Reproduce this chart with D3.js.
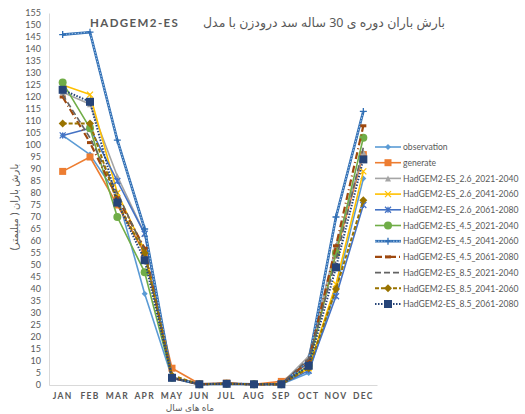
<!DOCTYPE html>
<html>
<head>
<meta charset="utf-8">
<script src="https://cdn.jsdelivr.net/npm/d3@7"></script>
<style>
  html, body { margin: 0; padding: 0; background: #fff; }
  svg { display: block; font-family: "Lato", "Liberation Sans", sans-serif; }
</style>
</head>
<body>
<svg id="chart" width="525" height="414"></svg>
<script>
// Monthly rainfall (mm), 30-year averages, Doroodzan dam, HadGEM2-ES scenarios
const months = ["JAN","FEB","MAR","APR","MAY","JUN","JUL","AUG","SEP","OCT","NOV","DEC"];
const yTicks = d3.range(0, 156, 5);

const observation   = [104, 96, 79, 38, 3, 0.3, 0.5, 0.3, 0.3, 5, 40, 86];
const generate      = [89, 95, 75, 55, 7, 0.5, 0.8, 0.3, 1.5, 9, 55, 96];
const s26_2021      = [122, 117, 87, 63, 3, 0.3, 0.6, 0.3, 0.5, 12, 58, 97];
const s26_2041      = [125, 121, 80, 56, 3, 0.3, 0.5, 0.3, 0.3, 7, 42, 89];
const s26_2061      = [104, 107, 85, 63, 3, 0.3, 0.5, 0.3, 0.3, 6, 37, 75];
const s45_2021      = [126, 107, 70, 47, 3, 0.3, 0.5, 0.3, 0.3, 8, 55, 103];
const s45_2041      = [146, 147, 102, 65, 3, 0.3, 0.5, 0.3, 0.3, 10, 70, 114];
const s45_2061      = [120, 101, 78, 57, 3, 0.3, 0.6, 0.3, 0.3, 10, 58, 108];
const s85_2021      = [121, 103, 80, 56, 3, 0.3, 0.5, 0.3, 0.3, 11, 52, 99];
const s85_2041      = [109, 109, 76, 55, 4, 0.3, 0.5, 0.3, 0.3, 7, 40, 77];
const s85_2061      = [123, 118, 76, 52, 3, 0.3, 0.5, 0.3, 0.3, 8, 49, 94];

const seriesNames = [
  "observation", "generate",
  "HadGEM2-ES_2.6_2021-2040", "HadGEM2-ES_2.6_2041-2060", "HadGEM2-ES_2.6_2061-2080",
  "HadGEM2-ES_4.5_2021-2040", "HadGEM2-ES_4.5_2041-2060", "HadGEM2-ES_4.5_2061-2080",
  "HadGEM2-ES_8.5_2021-2040", "HadGEM2-ES_8.5_2041-2060", "HadGEM2-ES_8.5_2061-2080"
];
const seriesValues = [observation, generate, s26_2021, s26_2041, s26_2061,
  s45_2021, s45_2041, s45_2061, s85_2021, s85_2041, s85_2061];

// line appearance per series
const styles = [
  { color: "#5B9BD5", width: 1.6, dash: null, marker: "diamond", size: 5 },
  { color: "#ED7D31", width: 1.6, dash: null, marker: "square", size: 7 },
  { color: "#A5A5A5", width: 1.6, dash: null, marker: "triangle", size: 6 },
  { color: "#FFC000", width: 1.6, dash: null, marker: "x", size: 6 },
  { color: "#4472C4", width: 1.6, dash: null, marker: "star", size: 6 },
  { color: "#70AD47", width: 1.6, dash: null, marker: "circle", size: 8 },
  { color: "#2E6DB4", width: 2.6, dash: null, marker: "plus", size: 7, double: true },
  { color: "#9E480E", width: 2.2, dash: "7,3,1,3", marker: "dash", size: 6 },
  { color: "#636363", width: 1.6, dash: "6,3", marker: "none", size: 0 },
  { color: "#997300", width: 2, dash: "4,2", marker: "diamond", size: 7 },
  { color: "#264478", width: 2, dash: "1.5,1.5", marker: "square", size: 8 }
];

const svg = d3.select("#chart");
const plot = { left: 49, right: 377, top: 13, bottom: 385 };

const x = d3.scaleBand().domain(months).range([plot.left, plot.right]);
const y = d3.scaleLinear().domain([0, 155]).range([plot.bottom, plot.top]);
const cx = m => x(m) + x.bandwidth() / 2;

// axes
const yAxis = d3.axisLeft(y).tickValues(yTicks).tickSize(0).tickPadding(8);
const yg = svg.append("g").attr("transform", `translate(${plot.left},0)`).call(yAxis);
yg.select(".domain").attr("stroke", "#D9D9D9");
yg.selectAll("text").attr("fill", "#595959").attr("font-size", 9)
  .attr("font-family", "Lato, sans-serif");

const xAxis = d3.axisBottom(x).tickSize(0).tickPadding(8);
const xg = svg.append("g").attr("transform", `translate(0,${plot.bottom})`).call(xAxis);
xg.select(".domain").attr("stroke", "#D9D9D9");
xg.selectAll("text").attr("fill", "#595959").attr("font-size", 8.5)
  .attr("font-weight", "bold").attr("letter-spacing", 1.3)
  .attr("font-family", "Lato, sans-serif");

// axis titles
svg.append("text")
  .attr("transform", `translate(18,207) rotate(-90)`)
  .attr("text-anchor", "middle").attr("fill", "#595959").attr("font-size", 10)
  .attr("font-family", "Noto Sans, DejaVu Sans, sans-serif")
  .text("بارش باران ( میلیمتر)");

svg.append("text")
  .attr("x", 190).attr("y", 411)
  .attr("text-anchor", "middle").attr("fill", "#595959").attr("font-size", 9)
  .attr("font-family", "Noto Sans, DejaVu Sans, sans-serif")
  .text("ماه های سال");

// chart title: Persian part ends at the right, model name on the left
svg.append("text")
  .attr("x", 445).attr("y", 27).attr("text-anchor", "end")
  .attr("fill", "#595959").attr("font-size", 12.5)
  .attr("font-family", "Noto Sans, DejaVu Sans, sans-serif")
  .text("بارش باران دوره ی 30 ساله سد درودزن با مدل");
svg.append("text")
  .attr("x", 90).attr("y", 27)
  .attr("fill", "#595959").attr("font-size", 11.5).attr("font-weight", "bold")
  .attr("letter-spacing", 1.4)
  .attr("font-family", "Lato, sans-serif")
  .text("HADGEM2-ES");

// marker shapes
function drawMarker(g, kind, px, py, st) {
  const s = st.size, c = st.color;
  if (kind === "diamond") {
    g.append("path").attr("d", `M${px},${py - s / 2 - 0.5}L${px + s / 2 + 0.5},${py}L${px},${py + s / 2 + 0.5}L${px - s / 2 - 0.5},${py}Z`).attr("fill", c);
  } else if (kind === "square") {
    g.append("rect").attr("x", px - s / 2).attr("y", py - s / 2).attr("width", s).attr("height", s).attr("fill", c);
  } else if (kind === "triangle") {
    g.append("path").attr("d", `M${px},${py - s / 2}L${px + s / 2},${py + s / 2}L${px - s / 2},${py + s / 2}Z`).attr("fill", c);
  } else if (kind === "circle") {
    g.append("circle").attr("cx", px).attr("cy", py).attr("r", s / 2).attr("fill", c);
  } else if (kind === "x" || kind === "star") {
    const h = s / 2;
    g.append("path").attr("d", `M${px - h},${py - h}L${px + h},${py + h}M${px - h},${py + h}L${px + h},${py - h}` + (kind === "star" ? `M${px},${py - h}L${px},${py + h}` : ""))
      .attr("stroke", c).attr("stroke-width", 1.3);
  } else if (kind === "plus") {
    const h = s / 2;
    g.append("path").attr("d", `M${px - h},${py}L${px + h},${py}M${px},${py - h}L${px},${py + h}`)
      .attr("stroke", c).attr("stroke-width", 1.3);
  } else if (kind === "dash") {
    g.append("rect").attr("x", px - s / 2).attr("y", py - 1.5).attr("width", s).attr("height", 3).attr("fill", c);
  }
}

const line = d3.line().x((d, i) => cx(months[i])).y(d => y(d));

seriesValues.forEach((vals, k) => {
  const st = styles[k];
  const g = svg.append("g");
  const p = g.append("path").datum(vals).attr("d", line)
    .attr("fill", "none").attr("stroke", st.color).attr("stroke-width", st.width)
    .attr("stroke-linejoin", "round");
  if (st.dash) p.attr("stroke-dasharray", st.dash);
  if (st.double) {
    g.append("path").datum(vals).attr("d", line)
      .attr("fill", "none").attr("stroke", "#BDD7EE").attr("stroke-width", 0.9)
      .attr("stroke-dasharray", "1.5,1.5");
  }
  vals.forEach((v, i) => drawMarker(g, st.marker, cx(months[i]), y(v), st));
});

// legend
const legend = svg.append("g");
seriesNames.forEach((name, k) => {
  const st = styles[k];
  const ly = 147 + k * 15.7;
  const g = legend.append("g");
  const l = g.append("line").attr("x1", 375).attr("x2", 401).attr("y1", ly).attr("y2", ly)
    .attr("stroke", st.color).attr("stroke-width", st.width);
  if (st.dash) l.attr("stroke-dasharray", st.dash);
  if (st.double) {
    g.append("line").attr("x1", 375).attr("x2", 401).attr("y1", ly).attr("y2", ly)
      .attr("stroke", "#BDD7EE").attr("stroke-width", 0.9).attr("stroke-dasharray", "1.5,1.5");
  }
  drawMarker(g, st.marker, 388, ly, st);
  g.append("text").attr("x", 403).attr("y", ly + 3.2)
    .attr("fill", "#595959").attr("font-size", 8.6)
    .attr("font-family", "Lato, sans-serif")
    .text(name);
});
</script>
</body>
</html>
